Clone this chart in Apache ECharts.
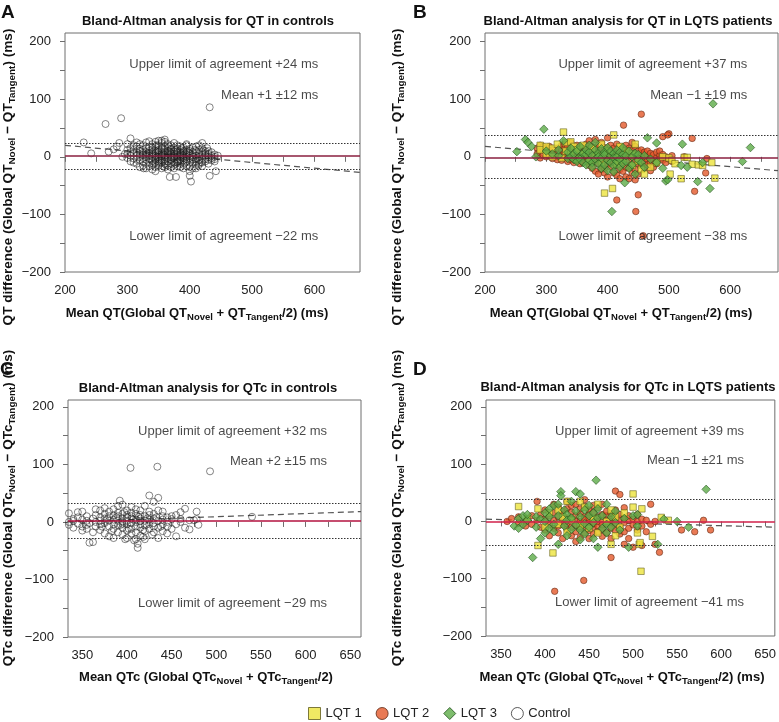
<!DOCTYPE html>
<html><head><meta charset="utf-8">
<script src="https://cdn.jsdelivr.net/npm/echarts@6/dist/echarts.min.js"></script>
<style>html,body{margin:0;padding:0;background:#fff}#c{width:779px;height:722px}</style>
</head><body><div id="c"></div>
<script>
// ---------------- DATA ----------------
// Panel A: QT in controls  [x, [y values]]
const controlsQTCols = [
 [300,[12,-2,5]],[305,[8,-8,15,2]],[310,[20,-3,6,12,-10]],[315,[2,-12,18,8,-5,25]],
 [320,[5,-18,14,-6,22,0,10]],[325,[-8,12,3,-15,20,7,-2]],[330,[15,-5,25,-20,8,0,-12,4]],
 [335,[-3,10,-16,18,2,-9,27,6]],[340,[8,-14,22,0,-7,13,-22,4,16]],[345,[-2,18,-10,6,26,-18,10,-5,2]],
 [350,[12,-8,4,20,-15,0,28,-3,8,-12]],[355,[-6,14,2,-20,24,8,-10,16,0,5]],[360,[3,-12,18,-4,9,26,-18,0,12,-8]],
 [365,[10,-2,-15,22,5,-8,15,0,-22,7]],[370,[-4,12,0,-12,20,6,-18,3,14,-6]],[375,[6,-10,16,-2,24,0,-14,9,-20,2]],
 [380,[-8,4,14,-16,0,10,-5,20,-10,7]],[385,[2,-12,8,18,-4,-18,12,0,-7,5]],[390,[-6,10,-14,3,16,-2,-20,8,0]],
 [395,[4,-8,12,-16,0,20,-4,8]],[400,[-10,6,-2,14,-18,2,-25,10]],[405,[3,-12,8,-5,16,-20,0]],
 [410,[-4,10,-14,2,18,-8]],[415,[6,-6,12,-12,0,20]],[420,[-2,8,-10,4,15,-16]],[425,[2,-8,10,-4,6]],
 [430,[-5,5,-12,10,0]],[435,[2,-6,8,-2]],[440,[-4,4,0]]
];
const controlsQTExtra = [[230,25],[242,6],[265,57],[290,67],[432,86],[402,-43],[400,-33],[368,-35],[378,-35],
 [432,-33],[442,-25],[445,2],[440,-8],[270,9],[278,13],[283,18],[287,24],[292,0],[296,5],[305,32],[300,22],
 [326,-20],[345,-25],[355,28],[360,30],[420,24],[428,15],[395,22],[410,-20],[414,-15],
 [332,6],[338,-4],[348,11],[352,-6],[358,4],[362,-14],[368,9],[372,-2],[378,12],[382,-8],[388,3],[392,-11],
 [398,7],[402,-5],[408,12],[412,-2],[418,-9],[422,11],[342,-12],[347,20],[357,-16],[367,18],[377,-12],[387,15]];

// Panel B: QT in LQTS patients
const lqt2QTCols = [
 [285,[15,5]],[290,[20,10,-2]],[295,[12,3,18]],[300,[8,15,0]],[305,[10,2,18]],[310,[5,12,-3]],
 [318,[8,0,15,-5]],[325,[12,3,-6,20]],[330,[5,-2,15,22]],[335,[10,0,-8,18]],[340,[3,12,-5,25]],
 [345,[8,-10,2,16,-3]],[350,[0,10,-6,20]],[355,[5,-12,14,-2]],[360,[-4,8,18,-10]],[365,[2,-8,12,22]],
 [370,[-2,6,-15,14,28]],[375,[4,-10,10,-20,18]],[380,[-6,2,15,-25,30]],[385,[0,-12,8,20,-30]],
 [390,[6,-16,12,-4,25,-22]],[395,[-8,4,-20,16,-28]],[400,[2,-12,10,33,-5,-35]],[405,[-6,8,-18,20,0]],
 [410,[4,-10,15,-28,-2]],[415,[-4,10,-15,22,-32,0]],[420,[6,-8,18,-22,-38,2]],[425,[-2,12,-12,5,-25]],
 [430,[4,-18,10,-35,20]],[435,[-6,8,-20,2,-38,15]],[440,[0,12,-14,-28,5,25]],[445,[-8,4,-22,18,-40]],
 [450,[2,-12,10,-30,-4]],[455,[-2,6,-16,12]],[460,[4,-8,-20,8]],[465,[-4,2,10,-14]],[470,[0,-10,6,-24]],
 [475,[4,-6,-18]],[480,[-2,8,-12]],[485,[2,-4,10]],[490,[-6,4,35]],[495,[0,-10]],[500,[-4,40]],[505,[2,-8]]
];
const lqt2QTExtra = [[415,-75],[426,55],[446,-95],[450,-66],[455,74],[458,-137],[538,32],[542,-60],[560,-28],[562,-3],[525,0],[498,38]];
const lqt3QTCols = [
 [252,[9]],[266,[30]],[270,[25]],[276,[18]],[283,[0]],[296,[48]],[300,[10]],[310,[5]],[320,[2,12]],[328,[28]],
 [335,[-3,8]],[340,[0,15]],[345,[-5,5]],[350,[10,-8]],[355,[0,18,-4]],[360,[-10,6]],[365,[4,-14,12]],
 [370,[-6,8,20]],[375,[2,-10,-18]],[380,[12,-4,25]],[385,[-12,6,0]],[390,[-2,14,-20]],[395,[8,-14,4]],
 [400,[-6,16,-24]],[405,[2,-10,10]],[410,[-16,6,-2,-26]],[415,[12,-8,0]],[420,[-4,-18,8]],[425,[4,-12,16]],
 [430,[-8,2]],[435,[-20,10]],[440,[0,-14]],[445,[6,-30]],[450,[-6,4]],[455,[-10]],[460,[2,-18]],[470,[-4]],
 [480,[-10,24]],[490,[-20]]
];
const lqt3QTExtra = [[407,-95],[428,-45],[465,33],[495,-42],[522,22],[520,-15],[530,-18],[547,-43],[567,-55],[572,92],[620,-8],[633,16],[555,-10],[498,-40]];
const lqt1QT = [[290,20],[290,12],[300,18],[300,5],[310,0],[310,15],[318,22],[325,-2],[328,43],[332,25],[332,10],
 [340,8],[340,26],[345,18],[350,-4],[350,12],[360,5],[360,20],[370,-8],[375,15],[380,2],[390,22],[390,-10],
 [395,-63],[400,10],[408,-55],[410,38],[415,0],[415,-12],[420,18],[425,-6],[430,10],[440,-15],[440,5],[445,22],
 [450,-8],[455,-22],[460,-30],[470,-18],[480,-10],[490,0],[500,-2],[502,-30],[505,-6],[510,-12],[520,-38],
 [525,-1],[530,-1],[538,-13],[548,-14],[555,-15],[570,-10],[575,-37]];

// Panel C: QTc in controls
const controlsQTcCols = [
 [335,[15,0,-5]],[340,[5,-10,2]],[345,[17,-3,8]],[350,[-8,4,18,-15]],[355,[2,-12,10,-5]],[358,[-36,-2]],
 [362,[-35,6,-18]],[365,[0,12,-8,22]],[370,[-4,8,-14,20,2]],[375,[6,-20,14,-2,24]],[380,[-8,2,18,-25,10]],
 [385,[4,-12,22,-4,12,-28]],[390,[-6,10,-18,2,28,16]],[392,[37]],[395,[0,-10,14,-22,6,30,-3]],
 [400,[-4,8,-15,20,2,-28,12]],[405,[6,-12,16,-2,26,-20,10]],[410,[-8,4,-18,14,-30,22,0]],[412,[-45,-38]],
 [415,[2,-10,12,-24,20,6,-4]],[420,[-6,10,-16,28,2,-30]],[425,[4,-12,18,46,-4,12]],[430,[-8,6,35,-18,14,-2]],
 [435,[2,42,-10,20,-28]],[440,[-4,10,-16,4,18]],[445,[0,-20,8,-8]],[450,[5,-12,10]],[455,[-4,-25,12]],
 [460,[0,17,5]],[465,[23,-10]],[470,[-13,3]],[475,[3]],[478,[18,5]],[480,[-5]]
];
const controlsQTcExtra = [[404,94],[434,96],[493,88],[540,9],[372,-8],[378,5],[383,-16],[388,8],[393,-5],
 [397,17],[402,-12],[407,4],[413,9],[418,-14],[423,6],[428,-22],[433,8],[438,-8],[398,-30],[408,-32],[418,-26]];

// Panel D: QTc in LQTS patients
const lqt2QTcCols = [
 [357,[0]],[362,[5]],[370,[-3,8]],[378,[0,-8]],[385,[10,-5]],[391,[35,2]],[395,[-10,12]],[400,[4,-15,20]],
 [405,[-6,10,-25]],[410,[2,-12,15,30]],[415,[-8,8,-20,25]],[420,[0,12,-30,-6,18]],[425,[6,-14,22,-4,35]],
 [430,[-10,4,16,-25,28]],[435,[2,-18,10,-6,30,-35]],[440,[-4,14,-12,22,0,-28]],[445,[8,-20,4,26,-8,38]],
 [450,[-2,12,-16,20,-30,6]],[455,[4,-10,16,-4,28,-22]],[460,[-8,8,-18,24,0]],[465,[2,-14,12,-6,30,-26]],
 [470,[-4,10,-20,18,2]],[475,[6,-12,14,-30,0]],[480,[-6,8,-16,20,53,2]],[485,[4,-10,12,47,-22]],
 [490,[-2,6,-18,24,-40]],[495,[2,-12,10,-30]],[500,[-6,4,-45]],[505,[0,-15,12]],[510,[-8,4,-42]],
 [515,[2,-18]],[520,[30,-5]],[525,[0,-40]],[530,[-54]]
];
const lqt2QTcExtra = [[411,-122],[444,-103],[475,-63],[555,-15],[570,-18],[580,2],[588,-15]];
const lqt3QTcCols = [
 [365,[-8]],[370,[-12,5]],[375,[10,-5]],[380,[2,12]],[386,[-63]],[390,[-10,8]],[395,[-30,4]],[400,[-20,15,0]],
 [405,[8,-12,22]],[410,[-5,28,-18]],[415,[-40,10,30]],[418,[52,45]],[422,[-8,20]],[425,[12,-25,2]],
 [430,[-14,35,6]],[435,[52,-6,18]],[440,[48,-32,8,-15]],[445,[-4,20,-22]],[450,[10,-10,28]],[455,[-2,15,-30]],
 [458,[72]],[460,[6,-45,22]],[465,[-12,10]],[470,[30,-5,-20]],[475,[8,-10]],[480,[-2,18]],[485,[-15]],
 [490,[5]],[495,[-45]],[500,[10]],[505,[12,-8]],[528,[-40]],[535,[4]],[550,[0]],[563,[-10]],[583,[56]]
];
const lqt1QTc = [[370,26],[380,5],[392,-42],[392,22],[400,-10],[405,15],[409,-55],[415,-5],[415,20],[420,8],
 [425,-18],[425,35],[430,2],[440,-8],[440,35],[445,25],[450,-12],[455,5],[460,30],[460,-20],[470,0],[475,-40],
 [475,20],[480,8],[480,-25],[485,-10],[490,15],[500,48],[500,25],[505,-20],[507,-40],[508,-37],[509,-87],
 [510,22],[522,-26],[532,7],[540,2]];

// Summary statistics per panel (A, B, C, D)
const meanDiff = [1, -1, 2, -1];
const sdDiff = [12, 19, 15, 21];
const upperLoA = [24, 37, 32, 39];
const lowerLoA = [-22, -38, -29, -41];
const regressionLines = [[[200,20],[673,-27]], [[200,18],[678,-24]], [[334,0],[662,18]], [[333,4],[661,-10]]];

// Axis ticks / labels
const xLabelsQT = [200,300,400,500,600];
const xTicksQT = [200,250,300,350,400,450,500,550,600,650];
const xLabelsQTc = [350,400,450,500,550,600,650];
const xTicksQTc = [350,375,400,425,450,475,500,525,550,575,600,625,650];
const yLabels = [-200,-100,0,100,200];
const yTicks = [-200,-150,-100,-50,0,50,100,150,200];

const panelLetters = ['A','B','C','D'];
const panelTitles = ['Bland-Altman analysis for QT in controls','Bland-Altman analysis for QT in LQTS patients',
 'Bland-Altman analysis for QTc in controls','Bland-Altman analysis for QTc in LQTS patients'];

// ---------------- BUILD ----------------
function flatten(cols, extra){ const out=[]; cols.forEach(c=>c[1].forEach(y=>out.push([c[0],y]))); return out.concat(extra||[]); }
const FONT = "'Liberation Sans', Arial, Helvetica, sans-serif";
const minus = v => v < 0 ? '\u2212' + (-v) : '' + v;
const signed = v => v < 0 ? '\u2212' + (-v) : '+' + v;

const layout = [
 {grid:{left:65, top:33, width:295, height:239}, xMin:200, xMax:673, yMax:215, xl:xLabelsQT, xt:xTicksQT, annoX:606},
 {grid:{left:485, top:33, width:293, height:239}, xMin:200, xMax:678, yMax:215, xl:xLabelsQT, xt:xTicksQT, annoX:628},
 {grid:{left:68, top:400, width:293, height:237}, xMin:334, xMax:662, yMax:212, xl:xLabelsQTc, xt:xTicksQTc, annoX:624},
 {grid:{left:486, top:400, width:292, height:236}, xMin:333, xMax:661, yMax:212, xl:xLabelsQTc, xt:xTicksQTc, annoX:626}
];
const meanColors = ['#8a1f3f','#8a1f3f','#b3123f','#d0204a'];

const styles = {
 'LQT 1': {symbol:'rect', symbolSize:6.5, itemStyle:{color:'#ece33c', borderColor:'#5e5a1c', borderWidth:0.7}},
 'LQT 2': {symbol:'circle', symbolSize:6.5, itemStyle:{color:'#e3592b', borderColor:'#5a2410', borderWidth:0.7}},
 'LQT 3': {symbol:'diamond', symbolSize:8.5, itemStyle:{color:'#5cab47', borderColor:'#1f4d1a', borderWidth:0.7}},
 'Control': {symbol:'circle', symbolSize:7, itemStyle:{color:'rgba(255,255,255,0)', borderColor:'rgba(30,30,30,0.85)', borderWidth:0.8}}
};

const panelSeries = [
 [['Control', flatten(controlsQTCols, controlsQTExtra)]],
 [['LQT 2', flatten(lqt2QTCols, lqt2QTExtra)], ['LQT 1', lqt1QT], ['LQT 3', flatten(lqt3QTCols, lqt3QTExtra)]],
 [['Control', flatten(controlsQTcCols, controlsQTcExtra)]],
 [['LQT 2', flatten(lqt2QTcCols, lqt2QTcExtra)], ['LQT 1', lqt1QTc], ['LQT 3', flatten(lqt3QTcCols)]]
];

const grids=[], xAxes=[], yAxes=[], series=[];
layout.forEach((L,i)=>{
 grids.push(Object.assign({show:true, borderColor:'#6e6e6e', borderWidth:1, backgroundColor:'transparent'}, L.grid));
 xAxes.push({type:'value', gridIndex:i, min:L.xMin, max:L.xMax,
  axisLine:{show:false}, splitLine:{show:false},
  axisTick:{show:true, length:5, customValues:L.xt, lineStyle:{color:'#6e6e6e'}},
  axisLabel:{customValues:L.xl, fontSize:13, color:'#222', margin:12, fontFamily:FONT}});
 yAxes.push({type:'value', gridIndex:i, min:-200, max:L.yMax,
  axisLine:{show:false}, splitLine:{show:false},
  axisTick:{show:true, length:5, customValues:yTicks, lineStyle:{color:'#6e6e6e'}},
  axisLabel:{customValues:yLabels, fontSize:13, color:'#222', margin:14, fontFamily:FONT, formatter:minus}});
 series.push({type:'line', xAxisIndex:i, yAxisIndex:i, data:regressionLines[i], symbol:'none', silent:true, z:1,
  lineStyle:{color:'#555', width:1.2, type:[6,4]},
  markLine:{silent:true, symbol:['none','none'], label:{show:false}, animation:false,
   data:[
    {yAxis:upperLoA[i], lineStyle:{color:'#333', width:1, type:[1.5,1.5]}},
    {yAxis:lowerLoA[i], lineStyle:{color:'#333', width:1, type:[1.5,1.5]}},
    {yAxis:meanDiff[i], lineStyle:{color:meanColors[i], width:1.6, type:'solid'}}
   ]}});
 panelSeries[i].forEach(([name,data])=>{
  const s = styles[name];
  series.push({type:'scatter', name, xAxisIndex:i, yAxisIndex:i, data, z:2,
   symbol:s.symbol, symbolSize:s.symbolSize, itemStyle:s.itemStyle, emphasis:{disabled:true}});
 });
 const annoText = ['Upper limit of agreement ' + signed(upperLoA[i]) + ' ms',
                   'Mean ' + signed(meanDiff[i]) + ' \u00b1' + sdDiff[i] + ' ms',
                   'Lower limit of agreement ' + signed(lowerLoA[i]) + ' ms'];
 const annoY = i < 2 ? [160,107,-139] : [158,106,-141];
 series.push({type:'scatter', name:'anno'+i, xAxisIndex:i, yAxisIndex:i, symbolSize:0, silent:true, z:3,
  data: annoY.map((y,k)=>({value:[L.annoX,y], label:{formatter:annoText[k]}})),
  label:{show:true, position:'left', distance:0, fontSize:13, color:'#1a1a1a', fontFamily:FONT}});
});

function makeRich(fs){ return {
 b:{fontSize:fs, fontWeight:'bold', fontFamily:FONT, lineHeight:18, verticalAlign:'middle', fill:'#111', color:'#111'},
 s:{fontSize:Math.round(fs*0.73*10)/10, fontWeight:'bold', fontFamily:FONT, lineHeight:18, verticalAlign:'bottom', fill:'#111', color:'#111'}
};}
const richX = makeRich(13), richY = makeRich(13.6);
function richText(parts){ return parts.map((p,k)=> k%2===0 ? '{b|'+p+'}' : '{s|'+p+'}').join(''); }
const xTitles = [
 richText(['Mean QT(Global QT','Novel',' + QT','Tangent','/2) (ms)']),
 richText(['Mean QT(Global QT','Novel',' + QT','Tangent','/2) (ms)']),
 richText(['Mean QTc (Global QTc','Novel',' + QTc','Tangent','/2)']),
 richText(['Mean QTc (Global QTc','Novel',' + QTc','Tangent','/2) (ms)'])
];
const yTitles = [
 richText(['QT difference (Global QT','Novel',' \u2212 QT','Tangent',') (ms)']),
 richText(['QT difference (Global QT','Novel',' \u2212 QT','Tangent',') (ms)']),
 richText(['QTc difference (Global QTc','Novel',' \u2212 QTc','Tangent',') (ms)']),
 richText(['QTc difference (Global QTc','Novel',' \u2212 QTc','Tangent',') (ms)'])
];
const letterPos = [[1,3],[413,3],[0,360],[413,360]];
const titlePos = [[208,21],[628,21],[208,388],[628,387]];
const xTitlePos = [[197,313],[621,313],[206,677],[622,677]];
const yTitlePos = [[8,177],[397,177],[8,508],[397,508]];
const graphics = [];
for (let i=0;i<4;i++){
 graphics.push({type:'text', x:yTitlePos[i][0], y:yTitlePos[i][1], rotation:Math.PI/2, style:{text:yTitles[i], rich:richY, align:'center', verticalAlign:'middle'}});
 graphics.push({type:'text', x:letterPos[i][0], y:letterPos[i][1], style:{text:panelLetters[i], font:'bold 19px '+FONT, fill:'#111', align:'left', verticalAlign:'top'}});
 graphics.push({type:'text', x:titlePos[i][0], y:titlePos[i][1], style:{text:panelTitles[i], font:'bold 13px '+FONT, fill:'#111', align:'center', verticalAlign:'middle'}});
 graphics.push({type:'text', x:xTitlePos[i][0], y:xTitlePos[i][1], style:{text:xTitles[i], rich:richX, align:'center', verticalAlign:'middle'}});
}

const chart = echarts.init(document.getElementById('c'), null, {renderer:'canvas'});
chart.setOption({
 animation:false, backgroundColor:'#fff',
 textStyle:{fontFamily:FONT},
 grid:grids, xAxis:xAxes, yAxis:yAxes, series,
 legend:{data:[
   {name:'LQT 1', itemStyle:{color:'#ece33c', borderColor:'#5e5a1c', borderWidth:1}},
   {name:'LQT 2', itemStyle:{color:'#e3592b', borderColor:'#5a2410', borderWidth:1}},
   {name:'LQT 3', itemStyle:{color:'#5cab47', borderColor:'#1f4d1a', borderWidth:1}},
   {name:'Control', itemStyle:{color:'#fff', borderColor:'#333', borderWidth:1}}],
  left:303, top:702, itemWidth:12, itemHeight:12, itemGap:14, selectedMode:false,
  textStyle:{fontSize:13, color:'#222', fontFamily:FONT}},
 graphic:graphics
});
</script></body></html>
